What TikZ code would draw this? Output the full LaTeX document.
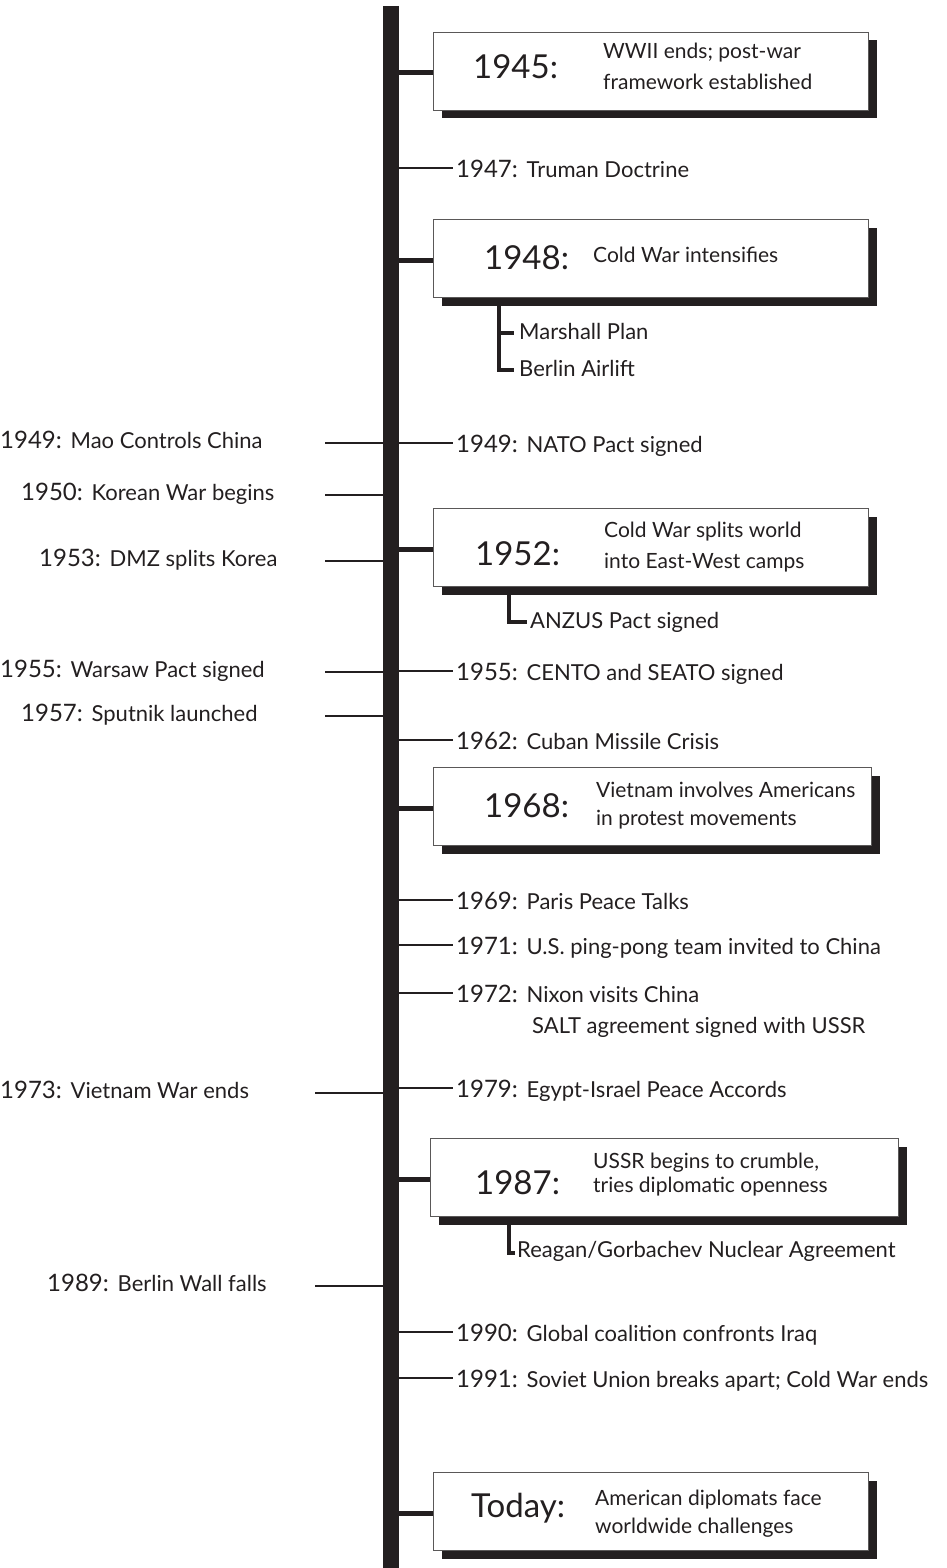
\documentclass[tikz,border=0pt]{standalone}
\usepackage{fontspec}
\setmainfont{Lato}
\usetikzlibrary{shadows,calc}
\definecolor{ink}{RGB}{35,31,32}
\definecolor{edge}{RGB}{90,88,88}
\newcommand{\bigyrfont}{\fontsize{33}{36}\selectfont}
\newcommand{\boxtxtfont}{\fontsize{21}{24}\selectfont}
\newcommand{\yrfont}{\fontsize{24}{26}\selectfont}
\newcommand{\evtxtfont}{\fontsize{22}{24}\selectfont}
\tikzset{
  bar/.style={draw=ink, line width=16pt},
  tick/.style={draw=ink, line width=2pt},
  link/.style={draw=ink, line width=5pt},
  brk/.style={draw=ink, line width=4pt},
  evbox/.style={draw=edge, line width=1pt, fill=white, inner sep=0pt,
    minimum height=78pt, anchor=north west,
    drop shadow={shadow xshift=8pt, shadow yshift=-8pt, fill=ink, opacity=1}},
  bigyr/.style={anchor=base west, inner sep=0pt, text=ink, font=\bigyrfont},
  boxtxt/.style={anchor=base west, inner sep=0pt, text=ink, font=\boxtxtfont},
  evtext/.style={anchor=base west, inner sep=0pt, text=ink, font=\evtxtfont},
  subtxt/.style={anchor=base west, inner sep=0pt, text=ink, font=\evtxtfont},
}
\begin{document}
\begin{tikzpicture}[x=1pt,y=-1pt]
\useasboundingbox (0,0) rectangle (946,1568);
\coordinate (bartop) at (391,6);
\coordinate (barbot) at (391,1568);

% right-hand events
\foreach \yr/\y/\txt in {1947/168/Truman Doctrine, 1949/443/NATO Pact signed,
  1955/671/CENTO and SEATO signed, 1962/740/Cuban Missile Crisis,
  1969/900/Paris Peace Talks, 1971/945/U.S. ping-pong team invited to China,
  1972/993/Nixon visits China, 1979/1088/Egypt-Israel Peace Accords,
  1990/1332/Global coalition confronts Iraq,
  1991/1378/Soviet Union breaks apart; Cold War ends}{
  \coordinate (rb\yr) at (391,\y);
  \node[evtext] (rt\yr) at (456,\y+9) {{\yrfont\yr:}\hspace{0.4em}\txt};
  \draw[tick, shorten >=3pt] (rb\yr) -- (rb\yr -| rt\yr.west);
}
\node[evtext] (salt) at (532,1033) {SALT agreement signed with USSR};

% left-hand events
\foreach \yr/\y/\x/\s/\txt in {1949/443/0/325/Mao Controls China,
  1950/495/21/325/Korean War begins, 1953/561/39/325/DMZ splits Korea,
  1955/672/0/325/Warsaw Pact signed, 1957/716/21/325/Sputnik launched,
  1973/1093/0/315/Vietnam War ends, 1989/1286/47/315/Berlin Wall falls}{
  \coordinate (lb\yr) at (391,\y);
  \coordinate (le\yr) at (\s,\y);
  \node[evtext] (lt\yr) at (\x,\y+5) {{\yrfont\yr:}\hspace{0.4em}\txt};
  \draw[tick] (lb\yr) -- (le\yr);
}

% boxes
\foreach \nm/\top/\lx/\rx in {1945/32/433/868, 1948/219/433/868, 1952/508/433/868,
  1968/767/433/871, 1987/1138/430/898, Today/1472/433/868}{
  \node[evbox, minimum width=\rx-\lx] (box\nm) at (\lx,\top) {};
  \coordinate (bb\nm) at (391,\top+41);
  \draw[link] (bb\nm) -- (bb\nm -| box\nm.west);
}
\draw[bar] (bartop) -- (barbot);

% box texts
\node[bigyr] (y1945) at (473,79) {1945:};
\node[boxtxt] (d1945a) at (603,59) {WWII ends; post-war};
\node[boxtxt] (d1945b) at (603,90) {framework established};

\node[bigyr] (y1948) at (484,269) {1948:};
\node[boxtxt] (d1948a) at (593,262) {Cold War intensifies};

\node[bigyr] (y1952) at (475,565) {1952:};
\node[boxtxt] (d1952a) at (604,537) {Cold War splits world};
\node[boxtxt] (d1952b) at (604,568) {into East-West camps};

\node[bigyr] (y1968) at (484,817) {1968:};
\node[boxtxt] (d1968a) at (596,797) {Vietnam involves Americans};
\node[boxtxt] (d1968b) at (596,825) {in protest movements};

\node[bigyr] (y1987) at (475,1194) {1987:};
\node[boxtxt] (d1987a) at (593,1168) {USSR begins to crumble,};
\node[boxtxt] (d1987b) at (593,1192) {tries diplomatic openness};

\node[bigyr] (yToday) at (471,1517) {Today:};
\node[boxtxt] (dTodaya) at (595,1505) {American diplomats face};
\node[boxtxt] (dTodayb) at (595,1533) {worldwide challenges};

% sub-items
\coordinate (s48top) at (499,306);
\coordinate (s48mid) at (499,333);
\coordinate (s48bot) at (499,370);
\node[subtxt] (marshall) at (519,339) {Marshall Plan};
\node[subtxt] (airlift) at (519,376) {Berlin Airlift};
\draw[brk] (s48top) -- (s48bot);
\draw[brk, shorten >=5pt] (s48mid) -- (s48mid -| marshall.west);
\draw[brk, shorten >=5pt] ([xshift=-2pt]s48bot) -- (s48bot -| airlift.west);

\coordinate (s52top) at (509,595);
\coordinate (s52bot) at (509,622);
\node[subtxt] (anzus) at (530,628) {ANZUS Pact signed};
\draw[brk, shorten >=3pt] (s52top) -- (s52bot) -- (s52bot -| anzus.west);

\coordinate (s87top) at (509,1224);
\coordinate (s87bot) at (509,1253);
\node[subtxt] (reagan) at (517,1257) {Reagan/Gorbachev Nuclear Agreement};
\draw[brk, shorten >=2pt] (s87top) -- (s87bot) -- (s87bot -| reagan.west);
\end{tikzpicture}
\end{document}
